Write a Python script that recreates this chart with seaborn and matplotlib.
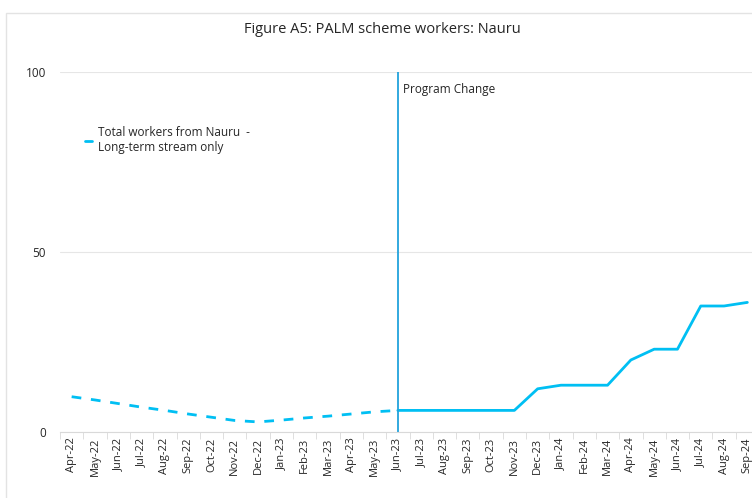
import numpy as np
import pandas as pd
import matplotlib
matplotlib.use("Agg")
import matplotlib.pyplot as plt
import seaborn as sns
from matplotlib.lines import Line2D
from matplotlib.patches import Rectangle

# =========================
# DATA
# =========================
months = ["Apr-22", "May-22", "Jun-22", "Jul-22", "Aug-22", "Sep-22", "Oct-22",
          "Nov-22", "Dec-22", "Jan-23", "Feb-23", "Mar-23", "Apr-23", "May-23",
          "Jun-23", "Jul-23", "Aug-23", "Sep-23", "Oct-23", "Nov-23", "Dec-23",
          "Jan-24", "Feb-24", "Mar-24", "Apr-24", "May-24", "Jun-24", "Jul-24",
          "Aug-24", "Sep-24"]

# estimated (dashed) part before the program change
est_workers = [9.8, 8.9, 7.9, 6.9, 6.0, 5.0, 4.1, 3.2, 2.8, 3.3, 3.9, 4.4, 5.0, 5.6, 6]
# actual long-term stream workers from Jun-23
actual_workers = [6, 6, 6, 6, 6, 6, 12, 13, 13, 13, 20, 23, 23, 35, 35, 36]

change_month = "Jun-23"
y_ticks = [0, 50, 100]

LINE_COLOR = "#00BFF3"
VLINE_COLOR = "#22A3DC"

# =========================
# DATAFRAMES
# =========================
df_est = pd.DataFrame({"pos": np.arange(len(est_workers)), "workers": est_workers})
start = months.index(change_month)
df_act = pd.DataFrame({"pos": np.arange(start, start + len(actual_workers)),
                       "workers": actual_workers})

# =========================
# PLOT
# =========================
sns.set_style("white")
plt.rcParams["font.family"] = ["Open Sans", "DejaVu Sans"]

fig = plt.figure(figsize=(7.52, 4.98), dpi=100)

# faint chart-area border (left and top visible)
fig.patches.append(Rectangle((6 / 752, -0.1), 1.2, 1.1 - 13 / 498 + 0.0,
                             transform=fig.transFigure, fill=False,
                             edgecolor="#e3e3e3", linewidth=1))

ax = fig.add_axes([60 / 752, 66 / 498, 30 * 23.3 / 752, 360 / 498])

sns.lineplot(data=df_est, x="pos", y="workers", ax=ax, color=LINE_COLOR,
             linewidth=2, linestyle=(0, (3.5, 3.5)))
sns.lineplot(data=df_act, x="pos", y="workers", ax=ax, color=LINE_COLOR,
             linewidth=2)

ax.axvline(start, ymin=0, ymax=1, color=VLINE_COLOR, linewidth=1.3)
ax.text(start + 0.2, 95, "Program Change", fontsize=8.5, va="center", ha="left")

ax.set_xlim(-0.5, len(months) - 0.5)
ax.set_ylim(0, 100)
ax.set_yticks(y_ticks)
ax.set_yticklabels([str(v) for v in y_ticks], fontsize=8.5)
ax.yaxis.grid(True, color="#e6e6e6", linewidth=0.8)
ax.tick_params(axis="y", length=0, pad=10)

ax.set_xticks(np.arange(len(months)))
ax.set_xticklabels(months, rotation=90, fontsize=8)
ax.set_xticks(np.arange(len(months) + 1) - 0.5, minor=True)
ax.tick_params(axis="x", which="major", length=0, pad=4)
ax.tick_params(axis="x", which="minor", length=5, color="#d9d9d9", direction="out")
ax.xaxis.set_tick_params(which="minor", bottom=True)

for side in ["top", "right", "left"]:
    ax.spines[side].set_visible(False)
ax.spines["bottom"].set_color("#d9d9d9")
ax.set_xlabel("")
ax.set_ylabel("")

handle = Line2D([0], [0], color=LINE_COLOR, linewidth=2)
ax.legend([handle], ["Total workers from Nauru  -\nLong-term stream only"],
          loc="upper left", bbox_to_anchor=(0.02, 0.88), frameon=False,
          fontsize=8.5, handlelength=0.6, handletextpad=0.5)

fig.suptitle("Figure A5: PALM scheme workers: Nauru", x=0.508, y=0.955, fontsize=10.5)

fig.savefig("out.png", dpi=100)
